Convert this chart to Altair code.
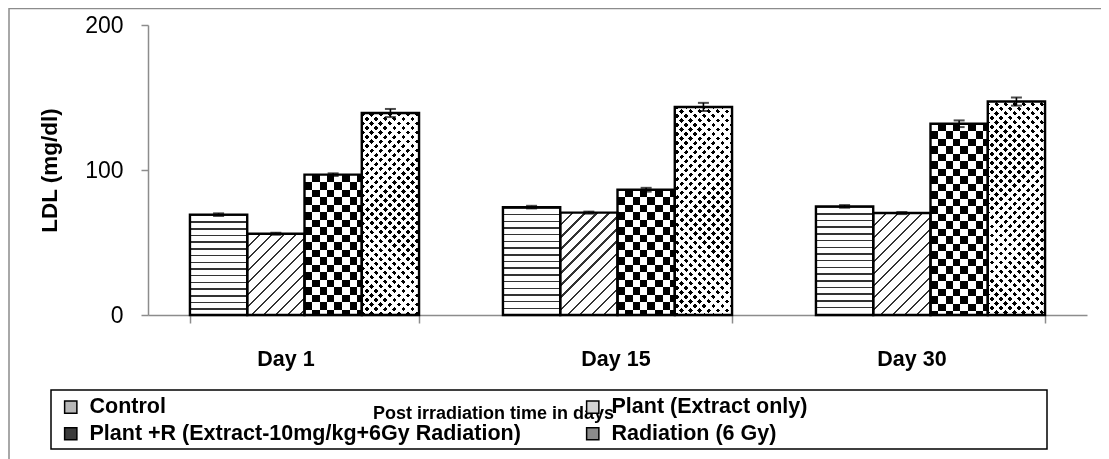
import math
import altair as alt

# ---------------- data ----------------
days = ["Day 1", "Day 15", "Day 30"]
groups = ["Control", "Plant (Extract only)",
          "Plant +R (Extract-10mg/kg+6Gy Radiation)", "Radiation (6 Gy)"]
legend_order = [groups[0], groups[2], groups[1], groups[3]]
control = [69.2, 74.4, 74.9]
plant = [56.0, 70.6, 70.3]
plant_r = [96.8, 86.4, 131.9]
radiation = [139.3, 143.5, 147.2]
control_err = [0.9, 0.9, 0.9]
plant_err = [0.7, 0.7, 0.7]
plant_r_err = [0.9, 1.3, 2.3]
radiation_err = [2.8, 2.8, 2.8]
y_ticks = [0, 100, 200]

# ---------------- layout / style ----------------
W, H = 939, 290
YMAX = 200
PAD_IN, PAD_OUT = 0.268, 0.134
BAR_W = W / 3 * (1 - PAD_IN) / 4
FONT = "Liberation Sans"
GRAY = "#8c8c8c"
swatch = {groups[0]: "#b8b8b8", groups[1]: "#d4d4d4", groups[2]: "#3c3c3c", groups[3]: "#8a8a8a"}


def stripe_stops(length, period, on, on_c, off_c, phase=0.0):
    segs = []
    x = phase - period
    while x < length:
        a, b = max(x, 0.0), min(x + on, length)
        if b > a:
            segs.append((round(a / length, 5), round(b / length, 5)))
        x += period
    stops = [{"offset": 0.0, "color": off_c}]
    for a, b in segs:
        stops += [{"offset": a, "color": off_c}, {"offset": a, "color": on_c},
                  {"offset": b, "color": on_c}, {"offset": b, "color": off_c}]
    stops.append({"offset": 1.0, "color": off_c})
    return stops


def horiz(h, period, on, on_c, off_c):
    return {"gradient": "linear", "x1": 0, "y1": 0, "x2": 0, "y2": 1,
            "stops": stripe_stops(h, period, on, on_c, off_c)}


def vert(w, period, on, on_c, off_c):
    return {"gradient": "linear", "x1": 0, "y1": 0, "x2": 1, "y2": 0,
            "stops": stripe_stops(w, period, on, on_c, off_c)}


def diag(w, h, period, on, on_c, off_c, direction):
    L = (w + h) / math.sqrt(2)
    s = (w + h) / (w * w + h * h)
    a, b = w * s, h * s
    if direction == "/":
        x1, y1, x2, y2 = 0, 0, a, b
    else:
        x1, y1, x2, y2 = 0, 1, a, 1 - b
    return {"gradient": "linear", "x1": x1, "y1": y1, "x2": round(x2, 5),
            "y2": round(y2, 5), "stops": stripe_stops(L, period, on, on_c, off_c)}


series = [(groups[0], control, control_err), (groups[1], plant, plant_err),
          (groups[2], plant_r, plant_r_err), (groups[3], radiation, radiation_err)]

recs = []
for i, d in enumerate(days):
    for gi, (gname, vals, errs) in enumerate(series):
        v, e = vals[i], errs[i]
        h = v / YMAX * H
        w = BAR_W
        g2 = "transparent"
        g3 = "transparent"
        if gi == 0:
            g1 = horiz(h, 6.7, 1.5, "#333333", "#ffffff")
        elif gi == 1:
            g1 = diag(w, h, 8.5, 1.5, "#333333", "#ffffff", "/")
        elif gi == 2:
            g1 = vert(w, 15.0, 7.5, "#000000", "#ffffff")
            g2 = horiz(h, 15.0, 7.5, "#ffffff", "#000000")
        else:
            g1 = diag(w, h, 6.4, 3.3, "#000000", "#ffffff", "/")
            g3 = diag(w, h, 6.4, 3.3, "#000000", "#ffffff", "\\")
        recs.append({"day": d, "group": gname, "value": v, "lo": v - e, "hi": v + e,
                     "g1": g1, "g2": g2, "g3": g3})

data = alt.Data(values=recs)
base = alt.Chart(data)

x_enc = alt.X("day:N", sort=days,
              scale=alt.Scale(paddingInner=PAD_IN, paddingOuter=PAD_OUT),
              axis=alt.Axis(title="Post irradiation time in days",
                            titleFont=FONT, titleFontWeight="bold", titleFontSize=18,
                            titleColor="black", titleX=345, titleY=103,
                            titleAlign="center", titleBaseline="alphabetic",
                            labelFont=FONT, labelFontWeight="bold", labelFontSize=21.5,
                            labelColor="black", labelBaseline="alphabetic",
                            labelPadding=42, labelAngle=0,
                            labelOffset={"condition": {"test": "datum.value === 'Day 15'", "value": -2},
                                         "value": -19},
                            tickBand="extent", tickSize=8, tickColor=GRAY, tickWidth=1.5,
                            domainColor=GRAY, domainWidth=1.5))
xo_enc = alt.XOffset("group:N", sort=groups,
                     scale=alt.Scale(domain=groups, paddingInner=0, paddingOuter=0))
y_enc = alt.Y("value:Q", scale=alt.Scale(domain=[0, YMAX], nice=False),
              axis=alt.Axis(values=y_ticks, title="LDL (mg/dl)", grid=False,
                            titleFont=FONT, titleFontWeight="bold", titleFontSize=22.5,
                            titleColor="black", titleX=-99, titleY=H / 2,
                            titleAlign="center", titleBaseline="middle", titleAngle=-90,
                            labelFont=FONT, labelFontSize=23, labelColor="black",
                            labelPadding=18, tickSize=7, tickColor=GRAY, tickWidth=1.5,
                            domainColor=GRAY, domainWidth=1.5))

frame = alt.Chart(alt.Data(values=[{"k": 1}])).mark_rect(
    fill="transparent", stroke=GRAY, strokeWidth=1.5
).encode(x=alt.value(-139), x2=alt.value(1400), y=alt.value(-16.5), y2=alt.value(900))

legend_box = alt.Chart(alt.Data(values=[{"k": 1}])).mark_rect(
    fill="transparent", stroke="black", strokeWidth=1.5
).encode(x=alt.value(-97), x2=alt.value(899), y=alt.value(365), y2=alt.value(424))

legend_layer = base.mark_bar().encode(
    x=x_enc, xOffset=xo_enc, y=y_enc,
    fill=alt.Fill("group:N", sort=legend_order,
                  scale=alt.Scale(domain=legend_order,
                                  range=[swatch[g] for g in legend_order]),
                  legend=alt.Legend(title=None, orient="none", legendX=-97, legendY=365,
                                    direction="vertical",
                                    columns=2, gridAlign="all", symbolType="square",
                                    symbolSize=150, symbolStrokeColor="black",
                                    symbolStrokeWidth=1.5, symbolOffset=3,
                                    labelFont=FONT, labelFontWeight="bold",
                                    labelFontSize=21.5, labelColor="black", labelLimit=0,
                                    labelOffset=8, columnPadding=58, rowPadding=4,
                                    padding=6))
)

p1 = base.mark_bar().encode(x=x_enc, xOffset=xo_enc, y=y_enc,
                            fill=alt.Fill("g1:N", scale=None))
p2 = base.mark_bar(blend="difference").encode(x=x_enc, xOffset=xo_enc, y=y_enc,
                                              fill=alt.Fill("g2:N", scale=None))
p3 = base.mark_bar(blend="lighten").encode(x=x_enc, xOffset=xo_enc, y=y_enc,
                                           fill=alt.Fill("g3:N", scale=None))
outline = base.mark_bar(fill="transparent", stroke="black", strokeWidth=2.4).encode(
    x=x_enc, xOffset=xo_enc, y=y_enc)

err_rule = base.mark_rule(color="black", strokeWidth=1.6).encode(
    x=x_enc, xOffset=xo_enc, y=alt.Y("lo:Q"), y2="hi:Q")
cap_hi = base.mark_tick(color="black", size=11, thickness=2).encode(
    x=x_enc, xOffset=xo_enc, y=alt.Y("hi:Q"))
cap_lo = base.mark_tick(color="black", size=11, thickness=2).encode(
    x=x_enc, xOffset=xo_enc, y=alt.Y("lo:Q"))

chart = alt.layer(frame, legend_box, legend_layer, p1, p2, p3, outline,
                  err_rule, cap_hi, cap_lo).properties(
    width=W, height=H,
    padding={"left": 140, "top": 17, "right": 14, "bottom": 144},
    autosize=alt.AutoSizeParams(type="none"),
    background="white",
).configure_view(stroke=None)

chart.save("out.html", embed_options={"renderer": "svg", "actions": False})
